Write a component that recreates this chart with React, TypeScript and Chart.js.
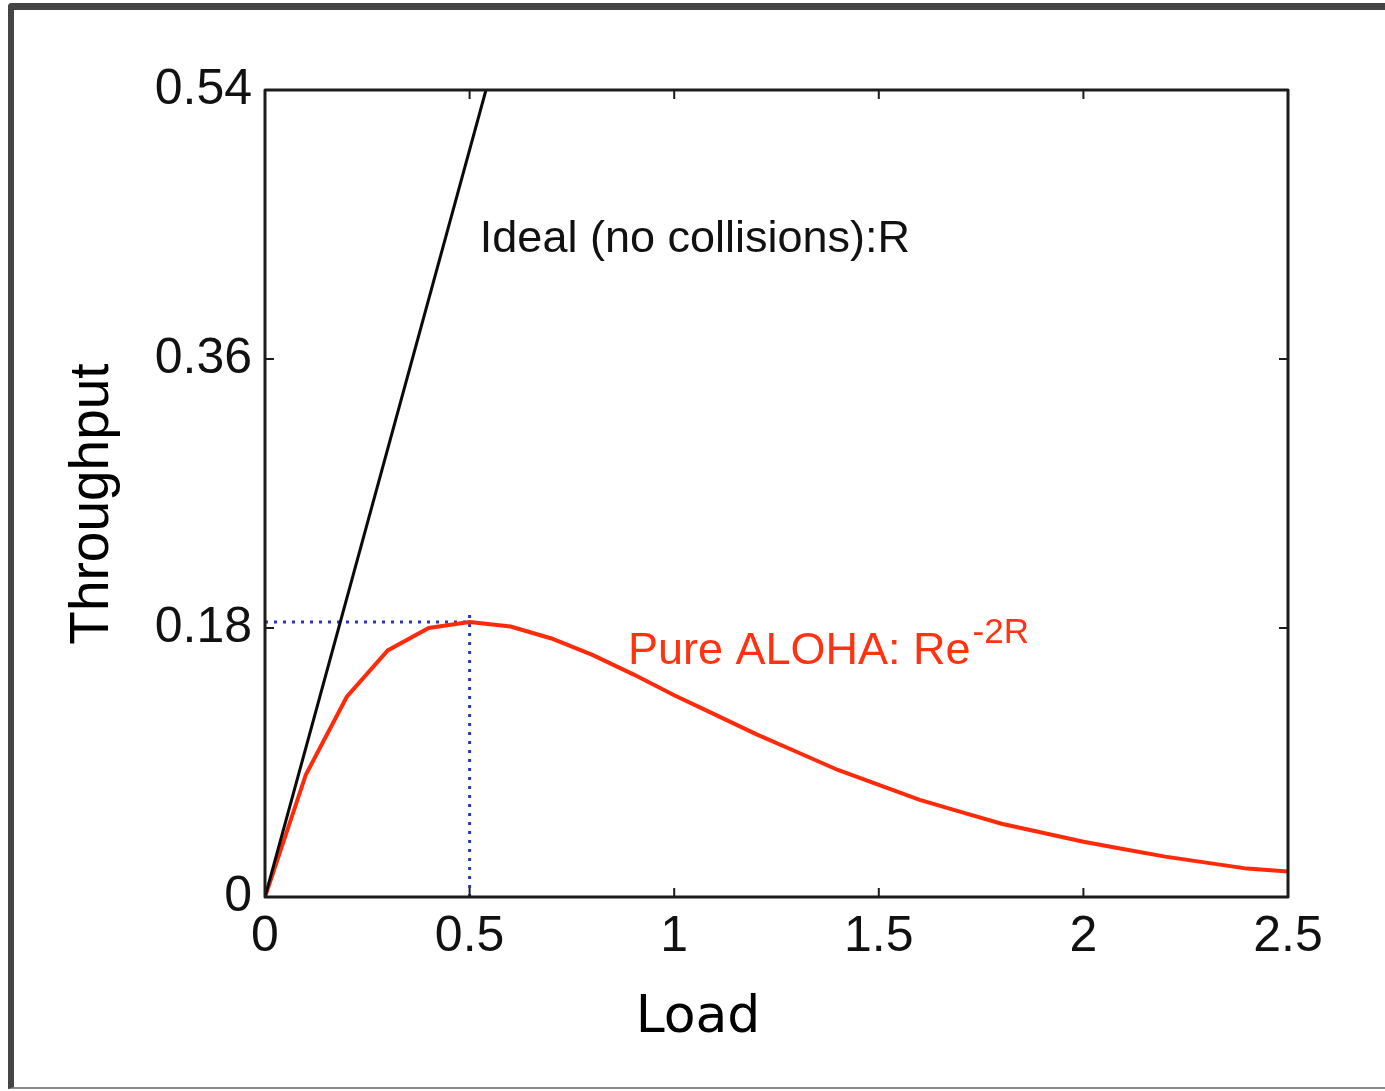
import React, { useEffect, useRef } from "react";
import { Chart, registerables } from "chart.js";

Chart.register(...registerables);

// ---- data ----
const loadValues = [0, 0.1, 0.2, 0.3, 0.4, 0.5, 0.6, 0.7, 0.8, 0.9, 1.0, 1.1, 1.2, 1.3, 1.4, 1.5, 1.6, 1.7, 1.8, 1.9, 2.0, 2.1, 2.2, 2.3, 2.4, 2.5];
const alohaThroughput = [0, 0.082, 0.134, 0.165, 0.18, 0.184, 0.181, 0.173, 0.162, 0.149, 0.135, 0.122, 0.109, 0.097, 0.085, 0.075, 0.065, 0.057, 0.049, 0.043, 0.037, 0.032, 0.027, 0.023, 0.019, 0.017];
const idealLoad = [0, 0.54];
const idealThroughput = [0, 0.54];
const peakHLoad = [0, 0.5];
const peakHThroughput = [0.184, 0.184];
const peakVLoad = [0.5, 0.5];
const peakVThroughput = [0, 0.19];
const xTickValues = [0, 0.5, 1, 1.5, 2, 2.5];
const xTickLabels = ["0", "0.5", "1", "1.5", "2", "2.5"];
const yTickValues = [0, 0.18, 0.36, 0.54];
const yTickLabels = ["0", "0.18", "0.36", "0.54"];
const xTitle = "Load";
const yTitle = "Throughput";
const idealLabel = "Ideal (no collisions):R";
const idealLabelPos = [0.525, 0.4316];
const alohaLabel = "Pure ALOHA: Re";
const alohaLabelSup = "-2R";
const alohaLabelPos = [0.887, 0.156];

const toPoints = (xs: number[], ys: number[]) => xs.map((x, i) => ({ x, y: ys[i] }));

const SANS = '"Liberation Sans", Arial, sans-serif';

const decorPlugin = {
  id: "decor",
  afterDatasetsDraw(chart: any) {
    const { ctx, chartArea, scales } = chart;
    const { left, right, top, bottom } = chartArea;
    const x = scales.x;
    const y = scales.y;
    ctx.save();
    // box
    ctx.strokeStyle = "#1c1c1c";
    ctx.lineWidth = 3;
    ctx.lineJoin = "round";
    ctx.strokeRect(left, top, right - left, bottom - top);
    // inward ticks
    ctx.lineWidth = 2;
    const tl = 9;
    xTickValues.forEach((v) => {
      const px = x.getPixelForValue(v);
      ctx.beginPath();
      ctx.moveTo(px, bottom);
      ctx.lineTo(px, bottom - tl);
      ctx.moveTo(px, top);
      ctx.lineTo(px, top + tl);
      ctx.stroke();
    });
    yTickValues.forEach((v) => {
      const py = y.getPixelForValue(v);
      ctx.beginPath();
      ctx.moveTo(left, py);
      ctx.lineTo(left + tl, py);
      ctx.moveTo(right, py);
      ctx.lineTo(right - tl, py);
      ctx.stroke();
    });
    // annotations
    ctx.textBaseline = "alphabetic";
    ctx.textAlign = "left";
    ctx.fillStyle = "#111111";
    ctx.font = `45px ${SANS}`;
    ctx.fillText(idealLabel, x.getPixelForValue(idealLabelPos[0]), y.getPixelForValue(idealLabelPos[1]));
    ctx.fillStyle = "#ff3311";
    const ax = x.getPixelForValue(alohaLabelPos[0]);
    const ay = y.getPixelForValue(alohaLabelPos[1]);
    ctx.fillText(alohaLabel, ax, ay);
    const w = ctx.measureText(alohaLabel).width;
    ctx.font = `35px ${SANS}`;
    ctx.fillText(alohaLabelSup, ax + w + 2, ay - 21);

    // axis titles
    ctx.fillStyle = "#000000";
    ctx.textAlign = "center";
    ctx.textBaseline = "alphabetic";
    ctx.font = `52px "DejaVu Sans", sans-serif`;
    ctx.fillText(xTitle, left + 433, bottom + 135);
    ctx.save();
    ctx.translate(left - 157, top + 414);
    ctx.rotate(-Math.PI / 2);
    ctx.font = `55px ${SANS}`;
    ctx.fillText(yTitle, 0, 0);
    ctx.restore();
    ctx.restore();
  },
};

export default function App() {
  const ref = useRef<HTMLCanvasElement | null>(null);
  useEffect(() => {
    if (!ref.current) return;
    const chart = new Chart(ref.current, {
      type: "line",
      data: {
        datasets: [
          {
            label: "Ideal",
            data: toPoints(idealLoad, idealThroughput),
            borderColor: "#0a0a0a",
            borderWidth: 3,
            pointRadius: 0,
          },
          {
            label: "Pure ALOHA",
            data: toPoints(loadValues, alohaThroughput),
            borderColor: "#ff2a0a",
            borderWidth: 4,
            pointRadius: 0,
          },
          {
            label: "peak-h",
            data: toPoints(peakHLoad, peakHThroughput),
            borderColor: "#2a35c0",
            borderWidth: 3,
            borderDash: [3, 6],
            pointRadius: 0,
          },
          {
            label: "peak-v",
            data: toPoints(peakVLoad, peakVThroughput),
            borderColor: "#2a35c0",
            borderWidth: 3,
            borderDash: [3, 6],
            pointRadius: 0,
          },
        ],
      },
      options: {
        responsive: false,
        animation: false,
        events: [],
        layout: { padding: { left: 55, right: 97, top: 90, bottom: 47 } },
        plugins: { legend: { display: false }, tooltip: { enabled: false } },
        scales: {
          x: {
            type: "linear",
            min: 0,
            max: 2.5,
            grid: { display: false, drawTicks: false },
            border: { display: false },
            afterBuildTicks: (s: any) => {
              s.ticks = xTickValues.map((v) => ({ value: v }));
            },
            afterFit: (s: any) => {
              s.height = 1091 - 47 - 897;
            },
            ticks: {
              padding: 10,
              color: "#111111",
              font: { family: SANS, size: 50 },
              maxRotation: 0,
              callback: (v: any) => {
                const i = xTickValues.indexOf(Number(v));
                return i >= 0 ? xTickLabels[i] : "";
              },
            },
            title: { display: false },
          },
          y: {
            type: "linear",
            min: 0,
            max: 0.54,
            grid: { display: false, drawTicks: false },
            border: { display: false },
            afterBuildTicks: (s: any) => {
              s.ticks = yTickValues.map((v) => ({ value: v }));
            },
            afterFit: (s: any) => {
              s.width = 265 - 55;
            },
            ticks: {
              padding: 13,
              color: "#111111",
              font: { family: SANS, size: 50 },
              callback: (v: any) => {
                const i = yTickValues.indexOf(Number(v));
                return i >= 0 ? yTickLabels[i] : "";
              },
            },
            title: { display: false },
          },
        },
      },
      plugins: [decorPlugin],
    });
    return () => chart.destroy();
  }, []);

  return (
    <div style={{ position: "fixed", left: 0, top: 0, width: 1385, height: 1091, background: "#ffffff", overflow: "hidden" }}>
      <div
        style={{
          position: "absolute",
          left: 8,
          top: 3,
          width: 1400,
          height: 1086,
          boxSizing: "border-box",
          borderLeft: "6px solid #454545",
          borderTop: "7px solid #454545",
          borderBottom: "2px solid #8a8a8a",
          borderTopLeftRadius: 4,
        }}
      />
      <canvas ref={ref} width={1385} height={1091} style={{ position: "absolute", left: 0, top: 0 }} />
    </div>
  );
}
